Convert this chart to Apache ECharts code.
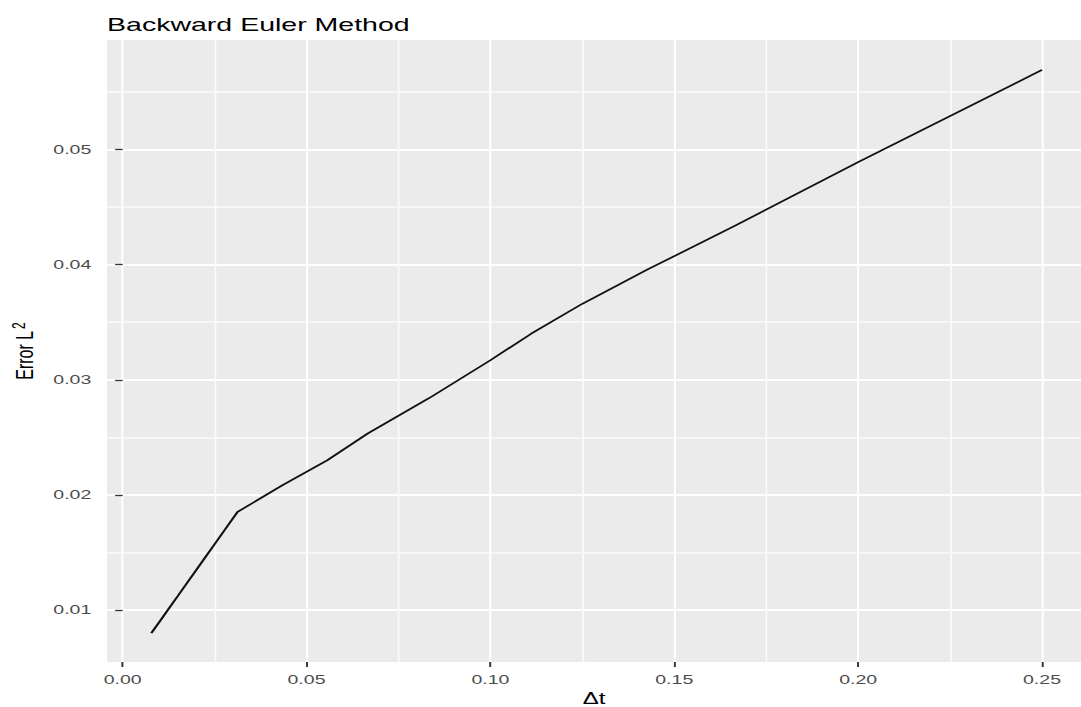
<!DOCTYPE html>
<html>
<head>
<meta charset="utf-8">
<title>Backward Euler Method</title>
<script src="https://cdn.jsdelivr.net/npm/echarts@6/dist/echarts.min.js"></script>
<style>
  html, body { margin: 0; padding: 0; background: #fff; overflow: hidden; }
  /* the chart is laid out narrow and widened horizontally, giving the wide lettering */
  #chart { width: 720px; height: 707px; transform: scaleX(1.50139); transform-origin: 0 0; }
</style>
</head>
<body>
<div id="chart"></div>
<script>
// time step sizes and the L2 error measured for each
const dtValues = [0.0078, 0.01, 0.0125, 0.015, 0.0175, 0.02, 0.0225, 0.025, 0.0275, 0.03125,
                  0.0435, 0.0556, 0.0667, 0.0833, 0.1, 0.1111, 0.125, 0.1429, 0.1667, 0.2, 0.25];
const errorValues = [0.00800, 0.00899, 0.01011, 0.01123, 0.01236, 0.01348, 0.01460, 0.01572, 0.01685, 0.01853,
                     0.02085, 0.02300, 0.02535, 0.02840, 0.03170, 0.03400, 0.03660, 0.03960, 0.04340, 0.04890, 0.05690];

// axis breaks
const xMajorTicks = [0, 0.05, 0.10, 0.15, 0.20, 0.25];
const xMinorTicks = [0.025, 0.075, 0.125, 0.175, 0.225];
const yMajorTicks = [0.01, 0.02, 0.03, 0.04, 0.05];
const yMinorTicks = [0.015, 0.025, 0.035, 0.045, 0.055];

const FONT = 'Liberation Sans, Arial, sans-serif';
const X_MIN = -0.00424, X_MAX = 0.2606;
const Y_MIN = 0.0055, Y_MAX = 0.0595;

const chart = echarts.init(document.getElementById('chart'), null, { renderer: 'svg' });

const fmt2 = v => v.toFixed(2);

chart.setOption({
  animation: false,
  backgroundColor: '#ffffff',
  title: {
    text: 'Backward Euler Method',
    left: 71.3,
    top: 15,
    padding: 0,
    textStyle: { fontFamily: FONT, fontSize: 19, fontWeight: 'normal', color: '#000000' }
  },
  grid: {
    left: 71.3, right: 0, top: 40, bottom: 45,
    outerBoundsMode: 'none',
    show: true, backgroundColor: '#EBEBEB', borderWidth: 0
  },
  xAxis: [
    {
      type: 'value', min: X_MIN, max: X_MAX,
      name: 'Δt', nameLocation: 'middle', nameGap: 28,
      nameTextStyle: { fontFamily: FONT, fontSize: 16, color: '#000000' },
      axisLine: { show: false },
      axisTick: { show: true, length: 5, customValues: xMajorTicks, lineStyle: { color: '#333333', width: 1.3 } },
      axisLabel: { customValues: xMajorTicks, formatter: fmt2, margin: 11, fontFamily: FONT, fontSize: 13, color: '#4D4D4D' },
      splitLine: { show: true, lineStyle: { color: '#FFFFFF', width: 1.4 } }
    },
    {
      type: 'value', min: X_MIN, max: X_MAX, gridIndex: 0, position: 'bottom',
      axisLine: { show: false },
      axisTick: { show: false, customValues: xMinorTicks },
      axisLabel: { show: false },
      splitLine: { show: true, lineStyle: { color: '#FBFBFB', width: 1.1 } }
    }
  ],
  yAxis: [
    {
      type: 'value', min: Y_MIN, max: Y_MAX,
      name: '{a|Error L}{b|2}', nameLocation: 'middle', nameGap: 35, nameRotate: 90,
      nameTextStyle: {
        fontFamily: FONT, color: '#000000',
        rich: {
          a: { fontFamily: FONT, fontSize: 16, color: '#000000' },
          b: { fontFamily: FONT, fontSize: 12, color: '#000000', padding: [0, 0, 9, 2] }
        }
      },
      axisLine: { show: false },
      axisTick: { show: true, length: 5, customValues: yMajorTicks, lineStyle: { color: '#333333', width: 1.3 } },
      axisLabel: { customValues: yMajorTicks, formatter: fmt2, margin: 10.5, fontFamily: FONT, fontSize: 13, color: '#4D4D4D' },
      splitLine: { show: true, lineStyle: { color: '#FFFFFF', width: 2 } }
    },
    {
      type: 'value', min: Y_MIN, max: Y_MAX, gridIndex: 0, position: 'left',
      axisLine: { show: false },
      axisTick: { show: false, customValues: yMinorTicks },
      axisLabel: { show: false },
      splitLine: { show: true, lineStyle: { color: '#FBFBFB', width: 1.5 } }
    }
  ],
  series: [
    {
      type: 'line',
      xAxisIndex: 0, yAxisIndex: 0,
      data: dtValues.map((d, i) => [d, errorValues[i]]),
      showSymbol: false,
      lineStyle: { color: '#111111', width: 1.6 },
      silent: true
    }
  ]
});
</script>
</body>
</html>
